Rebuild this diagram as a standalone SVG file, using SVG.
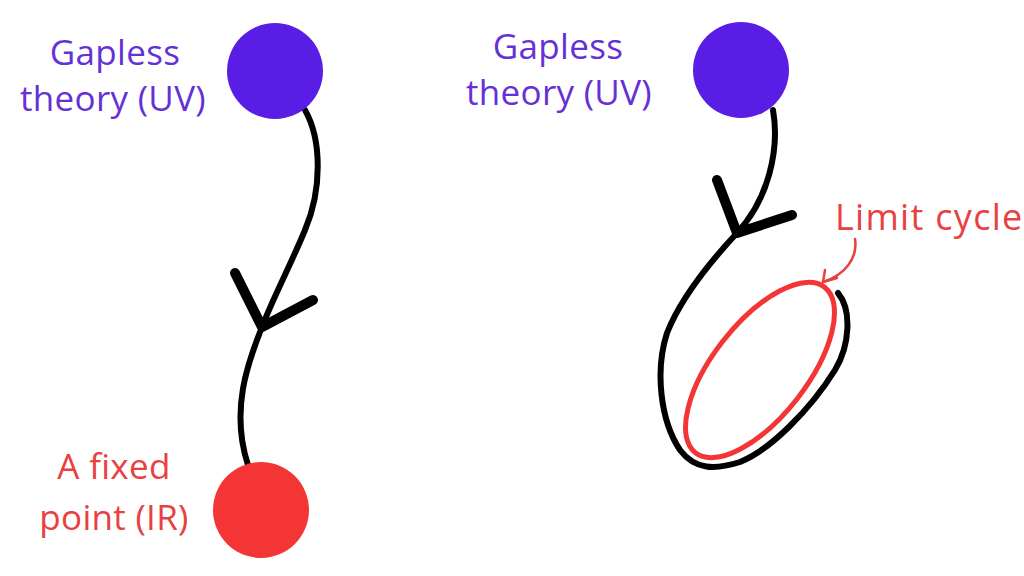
<svg xmlns="http://www.w3.org/2000/svg" width="1024" height="576" viewBox="0 0 1024 576">
<style>
.lbl{font-family:"Open Sans","Noto Sans",sans-serif;font-size:35px;text-anchor:middle;letter-spacing:0.3px}
.uv{fill:#6531d6}
.ir{fill:#e8413f}
.flow{fill:none;stroke:#000;stroke-width:6;stroke-linecap:round}
.head{fill:none;stroke:#000;stroke-width:10;stroke-linecap:round;stroke-linejoin:round}
</style>
<rect width="1024" height="576" fill="#fff"/>
<g id="connectors">
<path class="flow" d="M305,110 C322,140 322,190 305,230 C292,262 272,300 262,327 C248,362 230,410 248,465"/>
<path class="head" d="M235,273 L262,327 L313,300"/>
<path class="flow" d="M773,110 C780,150 768,200 737,233 C710,262 680,300 667,333 C655,370 660,420 680,450 C695,470 715,470 740,462 C770,450 810,410 835,370 C850,345 852,310 838,293"/>
<path class="head" d="M717,180 L737,233 L792,215"/>
<path d="M855,239 C858,258 845,275 823,282" fill="none" stroke="#e8413f" stroke-width="2.5" stroke-linecap="round"/>
<path d="M825,270 L823,282 L837,278" fill="none" stroke="#e8413f" stroke-width="2.5" stroke-linecap="round" stroke-linejoin="round"/>
</g>
<g id="uv-left">
<circle cx="275" cy="71" r="48" fill="#5a1de6"/>
<text class="lbl uv" x="115" y="65">Gapless</text>
<text class="lbl uv" x="113" y="111">theory (UV)</text>
</g>
<g id="ir-left">
<circle cx="261" cy="510" r="48" fill="#f43535"/>
<text class="lbl ir" x="114" y="479">A fixed</text>
<text class="lbl ir" x="114" y="530">point (IR)</text>
</g>
<g id="uv-right">
<circle cx="741" cy="70" r="48" fill="#5a1de6"/>
<text class="lbl uv" x="558" y="59">Gapless</text>
<text class="lbl uv" x="559" y="105">theory (UV)</text>
</g>
<g id="limit-cycle">
<ellipse cx="760" cy="370" rx="105" ry="47" transform="rotate(-52 760 370)" fill="none" stroke="#f43535" stroke-width="5"/>
<text class="lbl ir" x="835" y="230" style="text-anchor:start;font-size:36px;letter-spacing:1.3px">Limit cycle</text>
</g>
</svg>
